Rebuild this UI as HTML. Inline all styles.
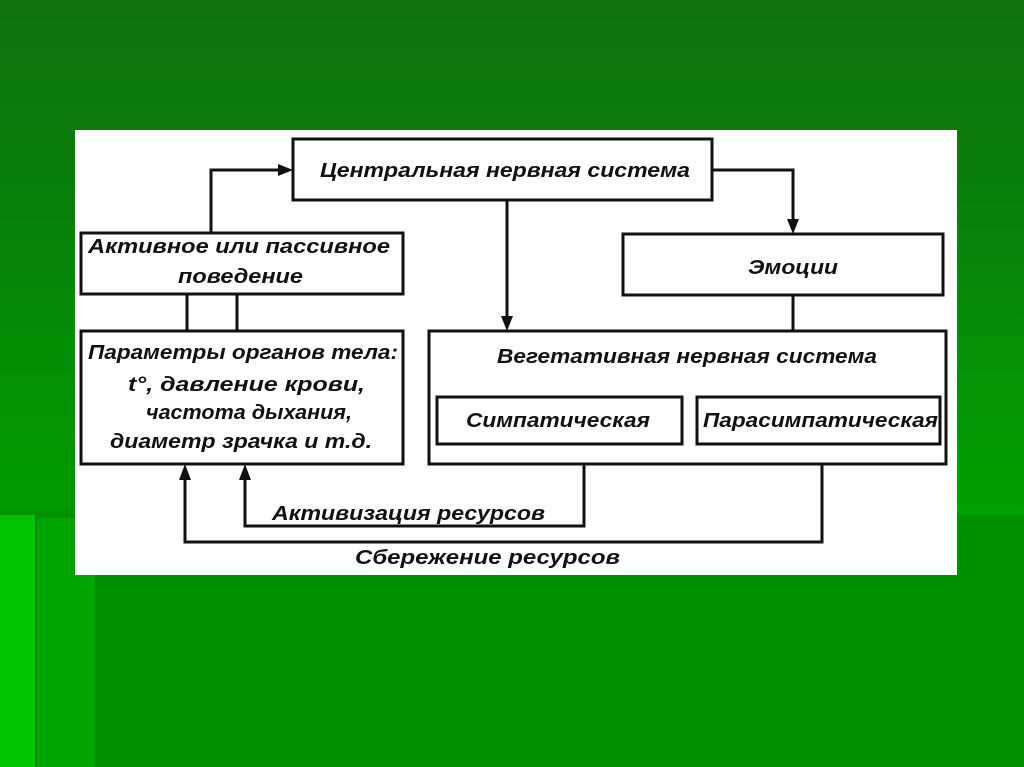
<!DOCTYPE html>
<html><head><meta charset="utf-8"><style>
html,body{margin:0;padding:0;width:1024px;height:767px;overflow:hidden}
body{position:relative;background:linear-gradient(#0f720f 0%,#0a7f0a 25%,#009a00 66%,#009000 67%,#009000 100%)}
.s{position:absolute}
text{font-family:"Liberation Sans",sans-serif;font-style:italic;font-weight:bold;font-size:20px;fill:#111}
</style></head><body>
<div class="s" style="left:957px;top:205px;width:67px;height:310px;background:linear-gradient(#0b800b,#00a000)"></div>
<div class="s" style="left:0;top:515px;width:35px;height:252px;background:#00c400"></div>
<div class="s" style="left:35px;top:518px;width:58px;height:249px;background:#00a400;border-left:2px solid #0a8a0a"></div>
<svg class="s" style="left:0;top:0" width="1024" height="767">
<rect x="75" y="130" width="882" height="445" fill="#fff"/>
<g fill="none" stroke="#111" stroke-width="3">
<rect x="293" y="139" width="419" height="61"/>
<rect x="81" y="233" width="322" height="61"/>
<rect x="623" y="234" width="320" height="61"/>
<rect x="81" y="331" width="322" height="133"/>
<rect x="429" y="331" width="517" height="133"/>
<rect x="437" y="397" width="245" height="47"/>
<rect x="697" y="397" width="243" height="47"/>
<polyline points="211,233 211,170 280,170"/>
<polyline points="712,170 793,170 793,220"/>
<line x1="507" y1="200" x2="507" y2="317"/>
<line x1="793" y1="295" x2="793" y2="331"/>
<line x1="187" y1="294" x2="187" y2="331"/>
<line x1="237" y1="294" x2="237" y2="331"/>
<polyline points="584,464 584,526 245,526 245,478"/>
<polyline points="822,464 822,542 185,542 185,478"/>
</g>
<g fill="#111">
<polygon points="293,170 278,164 278,176"/>
<polygon points="793,234 787,219 799,219"/>
<polygon points="507,331 501,316 513,316"/>
<polygon points="245,464 239,480 251,480"/>
<polygon points="185,464 179,480 191,480"/>
</g>
<text x="320" y="177" textLength="370" lengthAdjust="spacingAndGlyphs">Центральная нервная система</text>
<text x="88" y="253" textLength="302" lengthAdjust="spacingAndGlyphs">Активное или пассивное</text>
<text x="178" y="283" textLength="125" lengthAdjust="spacingAndGlyphs">поведение</text>
<text x="748" y="274" textLength="90" lengthAdjust="spacingAndGlyphs">Эмоции</text>
<text x="88" y="359" textLength="310" lengthAdjust="spacingAndGlyphs">Параметры органов тела:</text>
<text x="128" y="391" textLength="237" lengthAdjust="spacingAndGlyphs">t°, давление крови,</text>
<text x="146" y="419" textLength="206" lengthAdjust="spacingAndGlyphs">частота дыхания,</text>
<text x="110" y="448" textLength="262" lengthAdjust="spacingAndGlyphs">диаметр зрачка и т.д.</text>
<text x="497" y="363" textLength="380" lengthAdjust="spacingAndGlyphs">Вегетативная нервная система</text>
<text x="466" y="427" textLength="184" lengthAdjust="spacingAndGlyphs">Симпатическая</text>
<text x="703" y="427" textLength="235" lengthAdjust="spacingAndGlyphs">Парасимпатическая</text>
<text x="272" y="520" textLength="273" lengthAdjust="spacingAndGlyphs">Активизация ресурсов</text>
<text x="355" y="564" textLength="265" lengthAdjust="spacingAndGlyphs">Сбережение ресурсов</text>
</svg>
</body></html>
